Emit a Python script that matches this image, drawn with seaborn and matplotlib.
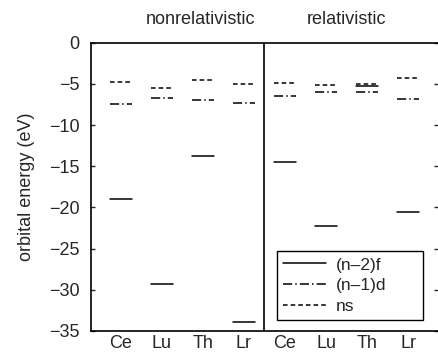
import numpy as np
import pandas as pd
import matplotlib
matplotlib.use("Agg")
import matplotlib.pyplot as plt
from matplotlib.lines import Line2D
import seaborn as sns

# Orbital energies (eV)
elements = ["Ce", "Lu", "Th", "Lr"]
nonrel_f = [-19.0, -29.3, -13.7, -33.9]
nonrel_d = [-7.4, -6.7, -7.0, -7.3]
nonrel_s = [-4.8, -5.5, -4.5, -5.0]
rel_f = [-14.5, -22.3, -5.3, -20.6]
rel_d = [-6.4, -6.0, -6.0, -6.8]
rel_s = [-4.9, -5.1, -4.95, -4.3]

orbitals = ["(n\u20132)f", "(n\u20131)d", "ns"]
regimes = ["nonrelativistic", "relativistic"]
dash_styles = {orbitals[0]: "", orbitals[1]: (6, 2, 1, 2), orbitals[2]: (3, 2)}

# long table: one level = one short horizontal segment (two endpoints)
half_w = 0.27
rows = []
uid = 0
for r, (fs, ds, ss) in enumerate([(nonrel_f, nonrel_d, nonrel_s), (rel_f, rel_d, rel_s)]):
    for i, el in enumerate(elements):
        pos = r * len(elements) + i
        for orb, vals in zip(orbitals, (fs, ds, ss)):
            for dx in (-half_w, half_w):
                rows.append({"pos": pos + dx, "energy": vals[i], "orbital": orb,
                             "level": uid, "regime": regimes[r]})
            uid += 1
df = pd.DataFrame(rows)

sns.set_style("ticks")
plt.rcParams["font.family"] = ["Liberation Sans", "DejaVu Sans"]
fs_main = 13

fig = plt.figure(figsize=(4.39, 3.54), dpi=100)
ax = fig.add_axes([0.207, 0.065, 0.791, 0.814])

sns.lineplot(data=df, x="pos", y="energy", style="orbital", units="level",
             estimator=None, dashes=dash_styles, color="black", linewidth=1.1,
             legend=False, ax=ax, sort=False)

ax.axvline(3.5, color="black", linewidth=1.2)

ax.set_xlim(-0.73, 7.73)
ax.set_ylim(-35, 0)
ax.set_yticks(np.arange(-35, 1, 5))
ax.set_xticks(range(8))
ax.set_xticklabels(elements * 2, fontsize=fs_main)
ax.tick_params(axis="x", length=0, pad=3)
ax.tick_params(axis="y", direction="in", length=3, labelsize=fs_main, right=True, width=1, pad=8)
ax.set_xlabel("")
ax.set_ylabel("orbital energy (eV)", fontsize=fs_main, labelpad=10)

for s in ["left", "bottom", "top"]:
    ax.spines[s].set_linewidth(1.2)
    ax.spines[s].set_color("black")
ax.spines["right"].set_visible(False)

ax.text(1.95, 1.08, regimes[0], transform=ax.get_xaxis_transform(),
        ha="center", va="center", fontsize=fs_main)
ax.text(5.49, 1.08, regimes[1], transform=ax.get_xaxis_transform(),
        ha="center", va="center", fontsize=fs_main)

handles = [Line2D([], [], color="black", linewidth=1.1,
                  linestyle=(0, dash_styles[o]) if dash_styles[o] else "-")
           for o in orbitals]
leg = ax.legend(handles, orbitals, loc="lower left", mode="expand",
                bbox_to_anchor=(0.536, 0.038, 0.421, 0.247),
                borderaxespad=0, fancybox=False, framealpha=1, edgecolor="black",
                handlelength=2.5, handletextpad=0.55, labelspacing=0.32, borderpad=0.35,
                prop={"family": ["Liberation Sans Narrow", "Liberation Sans"], "size": 12.5})
leg.get_frame().set_linewidth(1.0)

fig.savefig("out.png", dpi=100)
